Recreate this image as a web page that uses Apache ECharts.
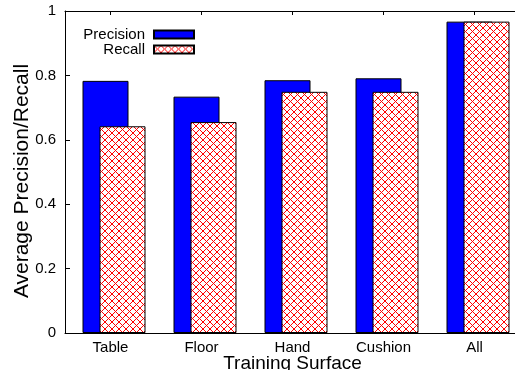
<!DOCTYPE html>
<html>
<head>
<meta charset="utf-8">
<script src="https://cdn.jsdelivr.net/npm/echarts@6/dist/echarts.min.js"></script>
<style>html,body{margin:0;padding:0;background:#fff}#c{width:515px;height:370px}</style>
</head>
<body>
<div id="c"></div>
<script>
const categories = ['Table', 'Floor', 'Hand', 'Cushion', 'All'];
const precision = [0.783, 0.734, 0.785, 0.791, 0.967];
const recall = [0.642, 0.655, 0.749, 0.749, 0.967];
const spacer = [0, 0, 0, 0, 0];

const pc = document.createElement('canvas');
pc.width = 7; pc.height = 7;
const ctx = pc.getContext('2d');
ctx.fillStyle = '#ffffff'; ctx.fillRect(0, 0, 7, 7);
ctx.fillStyle = '#ff0000';
for (let i = 0; i < 7; i++) {
  ctx.fillRect(i, i, 1, 1);
  ctx.fillRect(6 - i, i, 1, 1);
}

const font = 'Liberation Sans';
const chart = echarts.init(document.getElementById('c'), null, {renderer: 'canvas'});
chart.setOption({
  animation: false,
  backgroundColor: '#ffffff',
  textStyle: {fontFamily: font},
  grid: {left: 65, right: -5, top: 11, bottom: 37, outerBoundsMode: 'none', containLabel: false},
  legend: {
    data: ['Precision', 'Recall'],
    orient: 'vertical', align: 'right', right: 320, top: 27, padding: 0,
    itemWidth: 40, itemHeight: 8, itemGap: 0, icon: 'rect',
    selectedMode: false,
    textStyle: {fontFamily: font, fontSize: 15, color: '#000', lineHeight: 15, padding: [0, 4, 0, 0]}
  },
  xAxis: [{
    type: 'category', data: categories, position: 'bottom',
    axisLine: {lineStyle: {color: '#000', width: 1}},
    axisTick: {show: false},
    axisLabel: {color: '#000', fontSize: 15, fontFamily: font, margin: 7},
    name: 'Training Surface', nameLocation: 'middle', nameGap: 21, nameMoveOverlap: false,
    nameTextStyle: {color: '#000', fontSize: 19, fontFamily: font}
  }, {
    type: 'category', data: categories, position: 'top',
    axisLine: {lineStyle: {color: '#000', width: 1}},
    axisTick: {show: true, inside: true, length: 4, alignWithLabel: true, lineStyle: {color: '#000'}},
    axisLabel: {show: false}
  }],
  yAxis: {
    type: 'value', min: 0, max: 1, interval: 0.2,
    axisLine: {show: true, lineStyle: {color: '#000', width: 1}},
    axisTick: {show: true, inside: true, length: 5, lineStyle: {color: '#000'}},
    splitLine: {show: false},
    axisLabel: {color: '#000', fontSize: 15, fontFamily: font, margin: 9},
    name: 'Average Precision/Recall', nameLocation: 'middle', nameGap: 32, nameMoveOverlap: false,
    nameTextStyle: {color: '#000', fontSize: 21, fontFamily: font, padding: [0, 18, 0, 0]}
  },
  series: [{
    name: 'spacer', type: 'bar', data: spacer, barWidth: 19, barGap: '-63.04%',
    itemStyle: {color: 'rgba(0,0,0,0)', borderWidth: 0}, silent: true
  }, {
    name: 'Precision', type: 'bar', data: precision, barWidth: 46, barGap: '-63.04%',
    itemStyle: {color: '#0000ff', borderColor: '#000', borderWidth: 1}
  }, {
    name: 'Recall', type: 'bar', data: recall, barWidth: 46, barGap: '-63.04%',
    itemStyle: {color: {image: pc, repeat: 'repeat'}, borderColor: '#000', borderWidth: 1}
  }]
});
</script>
</body>
</html>
